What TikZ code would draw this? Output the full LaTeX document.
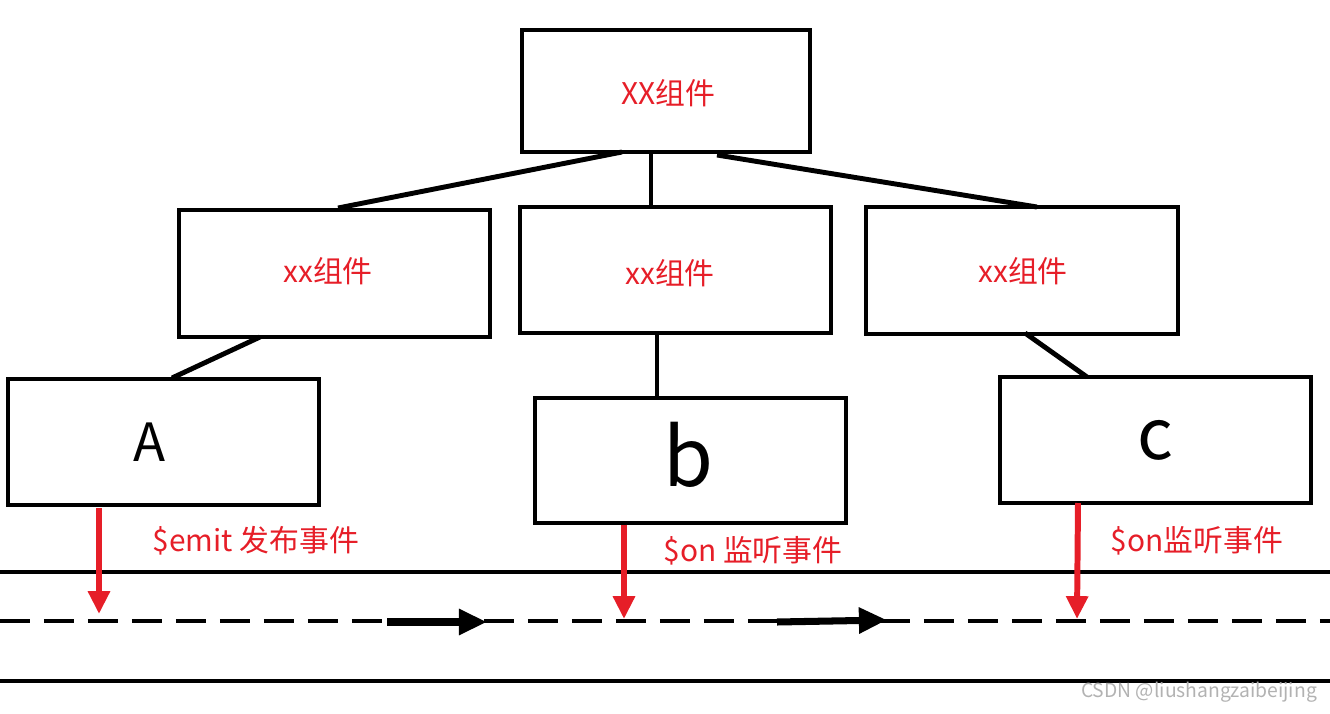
\documentclass[tikz,border=0pt]{standalone}
\usepackage{fontspec}
\setmainfont{Noto Sans CJK SC}
\usepackage{tikz}
\usetikzlibrary{arrows.meta}
\definecolor{labelred}{RGB}{230,30,40}
\tikzset{box/.style={draw, line width=1.9pt, inner sep=0pt}}
\tikzset{tie/.style={line width=2.8pt}}
\tikzset{push/.style={labelred, line width=3.4pt, -{Triangle[length=13pt,width=12pt]}}}

\begin{document}
\begin{tikzpicture}[x=0.02cm, y=-0.02cm]
	\useasboundingbox (0,0) rectangle (1330,714);
	% Default action for each node
	\tikzstyle{every node}=[font=\fontsize{17}{19}\selectfont];

	% BOXES
	\node[box, minimum width=5.76cm, minimum height=2.44cm] (top) at (666,91) {};
	\node[labelred] (toplabel) at (668,93) {XX组件};

	\node[box, minimum width=6.22cm, minimum height=2.54cm] (mid1) at (334.5,273.5) {};
	\node[box, minimum width=6.22cm, minimum height=2.52cm] (mid2) at (675.5,270) {};
	\node[box, minimum width=6.24cm, minimum height=2.54cm] (mid3) at (1022,270.5) {};
	\node[labelred] (mid1label) at (328,271) {xx组件};
	\node[labelred] (mid2label) at (670,273) {xx组件};
	\node[labelred] (mid3label) at (1023,271) {xx组件};

	\node[box, minimum width=6.22cm, minimum height=2.52cm] (a) at (163.5,442) {};
	\node[box, minimum width=6.22cm, minimum height=2.5cm] (b) at (690.5,460.5) {};
	\node[box, minimum width=6.22cm, minimum height=2.52cm] (c) at (1155.5,440) {};
	\node[font=\fontsize{30}{32}\selectfont] (alabel) at (150,442) {A};
	\node[font=\fontsize{46}{48}\selectfont] (blabel) at (688,455) {b};
	\node[font=\fontsize{40}{42}\selectfont] (clabel) at (1155,440) {c};

	% TIES
	\coordinate (top w) at (622,152);	\coordinate (mid1 n) at (338,208);
	\coordinate (top s) at (651,152);	\coordinate (mid2 n) at (651,207);
	\coordinate (top e) at (717,155);	\coordinate (mid3 n) at (1037,207);
	\coordinate (mid1 s) at (260,337);	\coordinate (a n) at (172,378);
	\coordinate (mid2 s) at (657,333);	\coordinate (b n) at (657,400);
	\coordinate (mid3 s) at (1025,333);	\coordinate (c n) at (1087,377);
	\draw[tie] (top w) -- (mid1 n);
	\draw[tie] (top s) -- (mid2 n);
	\draw[tie] (top e) -- (mid3 n);
	\draw[tie] (mid1 s) -- (a n);
	\draw[tie] (mid2 s) -- (b n);
	\draw[tie] (mid3 s) -- (c n);

	% BUS
	\coordinate (upper west) at (0,572);	\coordinate (upper east) at (1330,572);
	\coordinate (bus west) at (0,621);	\coordinate (bus east) at (1330,621);
	\coordinate (lower west) at (0,681);	\coordinate (lower east) at (1330,681);
	\draw[tie] (upper west) -- (upper east);
	\draw[tie, dash pattern=on 0.6cm off 0.28cm] (bus west) -- (bus east);
	\draw[tie] (lower west) -- (lower east);

	\coordinate (flow1 start) at (387,622);	\coordinate (flow1 end) at (487,622);
	\coordinate (flow2 start) at (777,622);	\coordinate (flow2 end) at (887,620);
	\draw[tie, line width=4pt, -{Triangle[length=16pt,width=14pt]}] (flow1 start) -- (flow1 end);
	\draw[tie, line width=4pt, -{Triangle[length=16pt,width=14pt]}] (flow2 start) -- (flow2 end);

	% EVENTS
	\coordinate (a hit) at (99,614);	\coordinate (b hit) at (624,619);	\coordinate (c hit) at (1077,619);
	\draw[push] (99,508) -- (a hit);
	\draw[push] (b.south -| b hit) -- (b hit);
	\draw[push] (1078,503) -- (c hit);
	\node[labelred] (emit) at (256,541) {\$emit 发布事件};
	\node[labelred] (on1) at (753,551) {\$on 监听事件};
	\node[labelred] (on2) at (1197,541) {\$on监听事件};

	\node[gray!60, font=\fontsize{11}{12}\selectfont] (mark) at (1199,692) {CSDN @liushangzaibeijing};
\end{tikzpicture}
\end{document}
